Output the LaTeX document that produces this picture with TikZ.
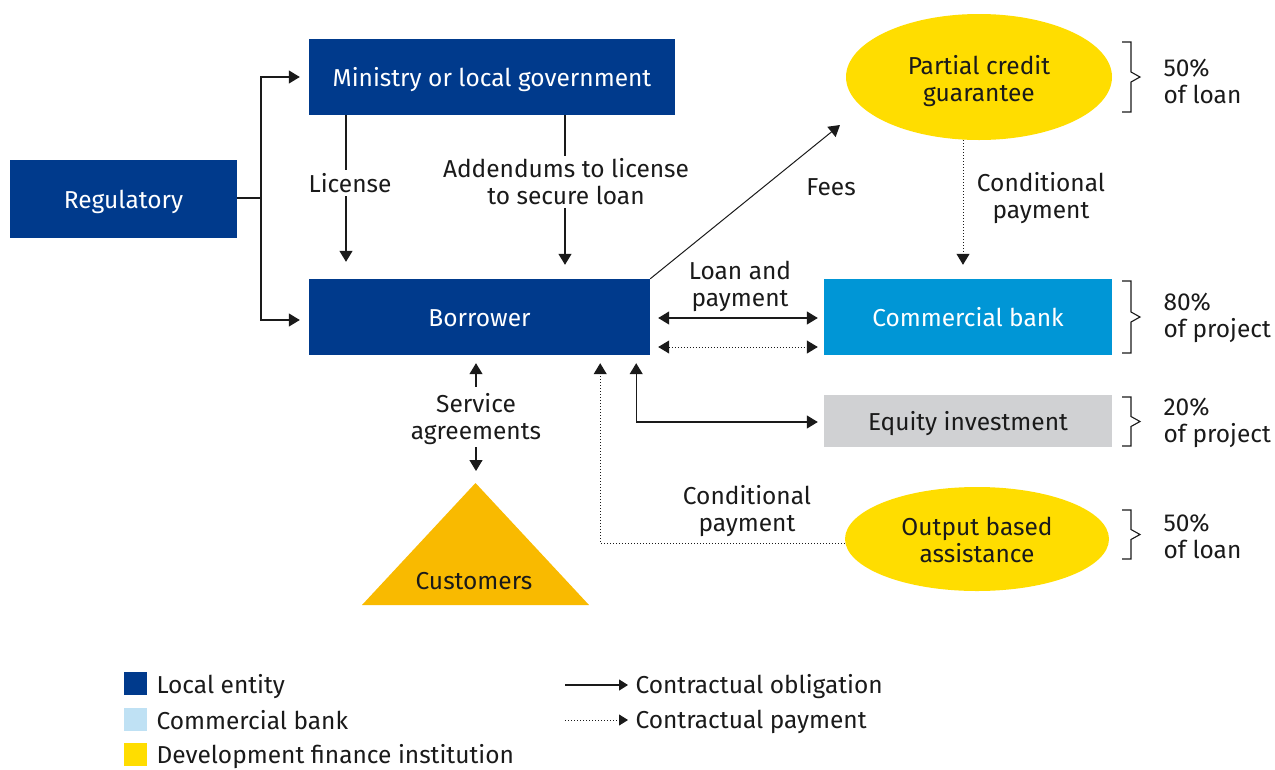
\documentclass[tikz,border=0pt]{standalone}
\usepackage{fontspec}
\setmainfont{Fira Sans}
\usetikzlibrary{arrows.meta,shapes.geometric,calc}
\definecolor{dblue}{HTML}{003A8C}
\definecolor{mblue}{HTML}{0096D6}
\definecolor{lblue}{HTML}{BFE1F4}
\definecolor{egray}{HTML}{D0D1D3}
\definecolor{yel}{HTML}{FFDD00}
\definecolor{org}{HTML}{F9BA00}
\definecolor{txt}{HTML}{1A1A1A}
\definecolor{lnc}{HTML}{1A1A1A}
\begin{document}
\begin{tikzpicture}[x=1pt,y=-1pt,
  every node/.style={font=\fontsize{24.5}{27}\selectfont, text=txt, align=center},
  onel/.style={text height=19pt, text depth=0pt},
  boxd/.style={fill=dblue, text=white, inner sep=0, onel},
  ln/.style={line width=1.2pt, draw=lnc},
  tip/.style={-{Triangle[length=11pt,width=13pt]}},
  arr/.style={ln, tip},
  arrb/.style={ln, {Triangle[length=11pt,width=13pt]}-{Triangle[length=11pt,width=13pt]}},
  dot/.style={line width=1pt, draw=lnc, dotted},
  lab/.style={fill=white, inner sep=3pt},
  pct/.style={anchor=west, align=left},
  sq/.style={minimum size=23pt, inner sep=0},
  leg/.style={anchor=base west}
]
\useasboundingbox (0,0) rectangle (1275,769);

% boxes
\node[boxd, minimum width=227pt, minimum height=78pt] (reg) at (123.5,199) {Regulatory};
\node[boxd, minimum width=366pt, minimum height=76pt] (min) at (492,77) {Ministry or local government};
\node[boxd, minimum width=341pt, minimum height=76pt] (bor) at (479.5,317) {Borrower};
\node[fill=mblue, text=white, inner sep=0, onel, minimum width=288pt, minimum height=76pt] (cb) at (968,317) {Commercial bank};
\node[fill=egray, inner sep=0, onel, minimum width=288pt, minimum height=52pt] (eq) at (968,421) {Equity investment};
\node[ellipse, fill=yel, minimum width=266pt, minimum height=126pt] (pcg) at (979,77) {};
\node (pcgt) at (979,81) {Partial credit\\guarantee};
\node[ellipse, fill=yel, minimum width=264pt, minimum height=104pt] (oba) at (977,539) {};
\node (obat) at (977,540) {Output based\\assistance};
\coordinate (apex) at (475.5,483);
\fill[org] (362,605) -- (apex) -- (589,605) -- cycle;
\node (cust) at (474,581) {Customers};

% regulatory connectors
\coordinate (j) at (261,198);
\draw[ln] (reg.east |- j) -- (j);
\draw[arr] (j) |- ($(min.west)+(-9,0)$);
\draw[arr] (j) |- ($(bor.west)+(-9,3)$);

% license
\draw[arr] (min.south -| 346,0) -- ($(bor.north -| 346,0)+(0,-17)$);
\node[lab] (lic) at (350,183) {License};
\draw[arr] (min.south -| 565,0) -- ($(bor.north -| 565,0)+(0,-14)$);
\node[lab] (add) at (566,182) {Addendums to license\\to secure loan};

% fees
\coordinate (fe) at (840,125);
\draw[arr, line width=1pt] (bor.north east) -- (fe);
\node (fees) at (831,187) {Fees};

% conditional payment from PCG
\draw[dot, tip] ($(pcg.south)+(-16,0)$) -- ($(cb.north)+(-5,-14)$);
\node (cp1) at (1041,198) {Conditional\\payment};

% loan and payment
\draw[arrb] ($(bor.east)+(8,1)$) -- ($(cb.west)+(-6,1)$);
\draw[dot, {Triangle[length=11pt,width=13pt]}-{Triangle[length=11pt,width=13pt]}] ($(bor.east)+(8,30)$) -- ($(cb.west)+(-6,30)$);
\node (lp) at (740,286) {Loan and\\payment};

% equity
\draw[arrb] ($(bor.south east)+(-14,8)$) |- ($(eq.west)+(-6,1)$);

% output based
\draw[dot, tip] ($(oba.west)+(0,4)$) -| ($(bor.south east)+(-50,8)$);
\node (cp2) at (747,511.5) {Conditional\\payment};

% service agreements
\node (sa) at (476,419) {Service\\agreements};
\draw[arr] ($(sa.north)+(0,-3)$) -- ($(bor.south -| sa.north)+(0,8)$);
\draw[arr] ($(apex)+(0.5,-36)$) -- ($(apex)+(0.5,-12)$);

% braces
\foreach \t/\b in {42/112, 281/353, 397/446, 510/559}{
  \draw[line width=1.1pt, draw=lnc] (1122,\t) -- (1131,\t) -- (1131,{(\t+\b)/2-5}) -- (1140,{(\t+\b)/2}) -- (1131,{(\t+\b)/2+5}) -- (1131,\b) -- (1122,\b);
}
\node[pct] (p1) at (1160,81) {50\%\\of loan};
\node[pct] (p2) at (1160,318) {80\%\\of project};
\node[pct] (p3) at (1160,422.5) {20\%\\of project};
\node[pct] (p4) at (1160,536.5) {50\%\\of loan};

% legend
\node[sq, fill=dblue] (l1) at (135.5,683) {};
\node[sq, fill=lblue] (l2) at (135.5,719) {};
\node[sq, fill=yel] (l3) at (135.5,754) {};
\node[leg] (t1) at (153,693) {Local entity};
\node[leg] (t2) at (153,729) {Commercial bank};
\node[leg] (t3) at (153,763) {Development finance institution};
\node[leg] (t4) at (632,693) {Contractual obligation};
\node[leg] (t5) at (632,728.5) {Contractual payment};
\coordinate (s4) at (565,685);
\coordinate (s5) at (565,720);
\draw[ln, -{Triangle[length=9pt,width=11pt]}] (s4) -- ($(t4.base west)+(-4,-8)$);
\draw[dot, -{Triangle[length=9pt,width=11pt]}] (s5) -- ($(t5.base west)+(-4,-8.5)$);
\end{tikzpicture}
\end{document}
